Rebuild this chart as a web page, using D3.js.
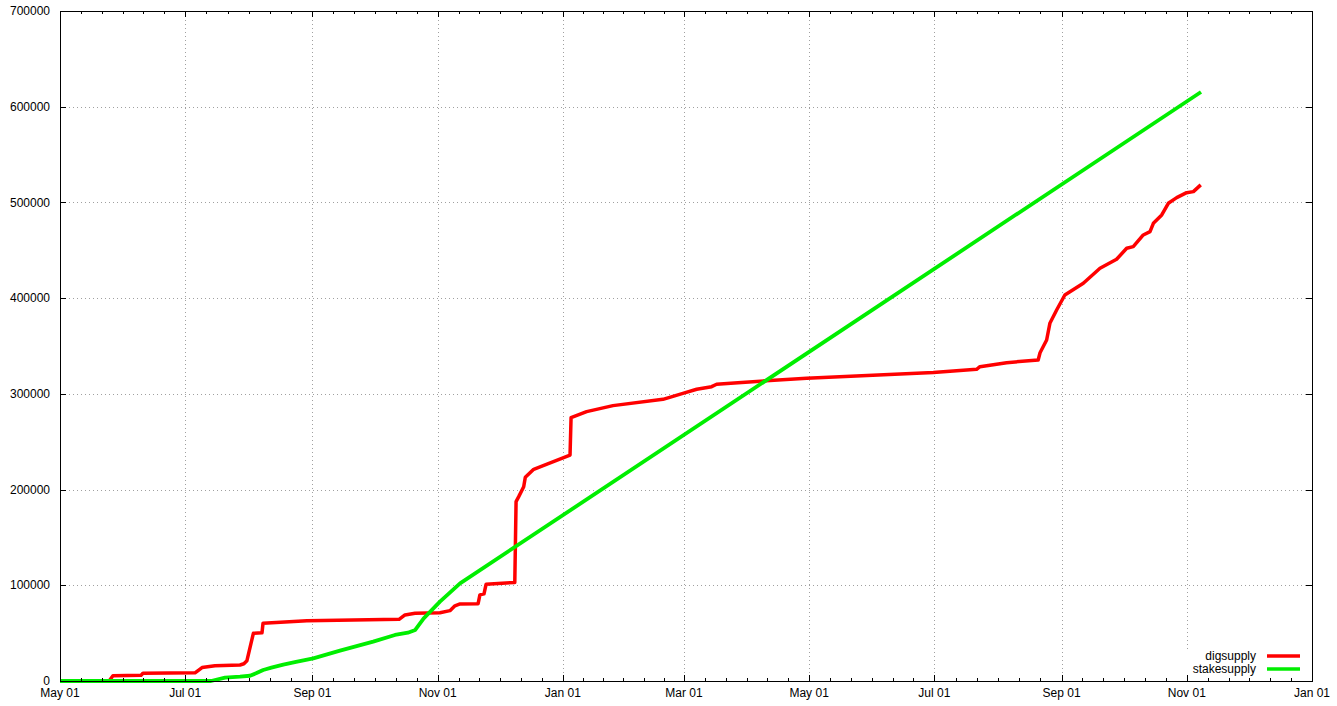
<!DOCTYPE html>
<html>
<head>
<meta charset="utf-8">
<script src="https://cdn.jsdelivr.net/npm/d3@7/dist/d3.min.js"></script>
<style>
  html, body { margin: 0; padding: 0; background: #fff; }
  svg { display: block; }
  text { font-family: "Liberation Sans", Arial, sans-serif; font-size: 12px; fill: #000; }
</style>
</head>
<body>
<svg id="chart" width="1337" height="706"></svg>
<script>
// ---- data ----
const digDates = ["2014-05-01 00","2014-05-24 22","2014-05-26 19","2014-06-09 12","2014-06-10 10","2014-07-05 19","2014-07-09 05","2014-07-15 12","2014-07-27 17","2014-07-29 14","2014-07-31 02","2014-08-03 05","2014-08-07 10","2014-08-07 22","2014-08-29 07","2014-10-13 05","2014-10-16 02","2014-10-21 00","2014-11-02 03","2014-11-07 00","2014-11-09 10","2014-11-11 22","2014-11-20 17","2014-11-21 14","2014-11-23 14","2014-11-24 14","2014-12-08 14","2014-12-09 05","2014-12-10 12","2014-12-12 22","2014-12-13 17","2014-12-17 19","2014-12-24 07","2015-01-04 12","2015-01-05 00","2015-01-12 14","2015-01-25 10","2015-02-18 19","2015-02-28 12","2015-03-07 05","2015-03-14 12","2015-03-16 22","2015-03-27 07","2015-04-29 19","2015-06-30 12","2015-07-21 14","2015-07-23 05","2015-08-05 05","2015-08-20 14","2015-08-21 12","2015-08-24 17","2015-08-26 07","2015-08-29 14","2015-09-02 14","2015-09-11 14","2015-09-19 17","2015-09-27 19","2015-10-02 17","2015-10-05 22","2015-10-10 19","2015-10-14 02","2015-10-15 17","2015-10-19 19","2015-10-23 00","2015-10-27 02","2015-10-31 22","2015-11-04 05","2015-11-07 19"];
const digValues = [0,0,5500,6000,8000,8500,14000,16000,16700,18000,21200,49800,50300,60300,63000,64400,69000,70700,71400,73500,78500,80500,80800,90000,91000,101000,103000,187400,192600,203000,212800,221200,226500,236100,275100,281400,287700,294300,300500,304800,307500,310000,311700,316300,322200,325700,328400,332600,335400,343000,356300,373700,387600,403300,415500,431200,440600,452100,453800,466000,469500,478200,486900,499100,505000,510200,511300,518300];

const stakeDates = ["2014-05-01 00","2014-07-13 14","2014-07-20 10","2014-07-27 17","2014-08-01 14","2014-08-04 12","2014-08-08 00","2014-08-12 00","2014-08-17 19","2014-08-24 00","2014-09-01 10","2014-09-14 10","2014-09-30 14","2014-10-11 05","2014-10-17 12","2014-10-21 02","2014-10-25 05","2014-11-02 03","2014-11-11 22","2015-11-07 22"];
const stakeValues = [0,0,3500,4500,5500,8000,11500,14000,17200,20000,23700,31700,41100,48100,50500,53300,65500,82900,102000,615400];

const seriesNames = ["digsupply","stakesupply"];
const seriesColors = ["#ff0000","#00ee00"];

const yTickValues = [0,100000,200000,300000,400000,500000,600000,700000];
const xTickDates = ["2014-05-01 00","2014-07-01 00","2014-09-01 00","2014-11-01 00","2015-01-01 00","2015-03-01 00","2015-05-01 00","2015-07-01 00","2015-09-01 00","2015-11-01 00","2016-01-01 00"];

// ---- layout ----
const svg = d3.select("#chart");
const L = 60, R = 1312, T = 11, B = 681;
const parse = d3.timeParse("%Y-%m-%d %H");
const fmt = d3.timeFormat("%b %d");

const x = d3.scaleTime().domain([parse(xTickDates[0]), parse(xTickDates[xTickDates.length - 1])]).range([L, R]);
const y = d3.scaleLinear().domain([0, 700000]).range([B, T]);

const xt = xTickDates.map(parse);

// grid
const grid = svg.append("g").attr("stroke", "#a0a0a0").attr("stroke-width", 1).attr("stroke-dasharray", "1,3");
xt.forEach(d => {
  const px = Math.round(x(d)) + 0.5;
  if (px > L + 1 && px < R - 1)
    grid.append("line").attr("x1", px).attr("x2", px).attr("y1", T + 5).attr("y2", B - 5);
  else if (px <= L + 1)
    grid.append("line").attr("x1", px).attr("x2", px).attr("y1", T + 2).attr("y2", B - 5);
});
yTickValues.forEach(v => {
  const py = Math.round(y(v)) + 0.5;
  if (py > T + 1 && py < B - 1)
    grid.append("line").attr("x1", L + 5).attr("x2", R - 6).attr("y1", py).attr("y2", py);
});

// legend background (clears grid)
svg.append("rect").attr("x", 1180).attr("y", 649).attr("width", 126).attr("height", 27).attr("fill", "#fff");

// lines
const line = d3.line().x(d => x(d[0])).y(d => y(d[1]));
const digData = digDates.map((d, i) => [parse(d), digValues[i]]);
const stakeData = stakeDates.map((d, i) => [parse(d), stakeValues[i]]);

svg.append("path").datum(digData).attr("d", line)
  .attr("fill", "none").attr("stroke", seriesColors[0]).attr("stroke-width", 3.5).attr("stroke-linejoin", "round");
svg.append("path").datum(stakeData).attr("d", line)
  .attr("fill", "none").attr("stroke", seriesColors[1]).attr("stroke-width", 3.8).attr("stroke-linejoin", "round");

// frame
svg.append("rect").attr("x", L + 0.5).attr("y", T + 0.5).attr("width", R - L).attr("height", B - T)
  .attr("fill", "none").attr("stroke", "#000").attr("stroke-width", 1);

// ticks
const ticks = svg.append("g").attr("stroke", "#000").attr("stroke-width", 1);
for (let i = 0; i < xt.length; i++) {
  const px = Math.round(x(xt[i])) + 0.5;
  ticks.append("line").attr("x1", px).attr("x2", px).attr("y1", B).attr("y2", B - 6);
  ticks.append("line").attr("x1", px).attr("x2", px).attr("y1", T).attr("y2", T + 6);
  if (i < xt.length - 1) {
    const a = x(xt[i]), b = x(xt[i + 1]);
    for (let k = 1; k < 6; k++) {
      const mx = Math.round(a + (b - a) * k / 6) + 0.5;
      ticks.append("line").attr("x1", mx).attr("x2", mx).attr("y1", B).attr("y2", B - 3);
      ticks.append("line").attr("x1", mx).attr("x2", mx).attr("y1", T).attr("y2", T + 3);
    }
  }
}
yTickValues.forEach(v => {
  const py = Math.round(y(v)) + 0.5;
  ticks.append("line").attr("x1", L).attr("x2", L + 6).attr("y1", py).attr("y2", py);
  ticks.append("line").attr("x1", R).attr("x2", R - 6).attr("y1", py).attr("y2", py);
});

// labels
yTickValues.forEach(v => {
  svg.append("text").attr("x", 50).attr("y", y(v)).attr("dy", "0.35em").attr("text-anchor", "end").text(v);
});
xt.forEach(d => {
  svg.append("text").attr("x", x(d)).attr("y", 697).attr("text-anchor", "middle").text(fmt(d));
});

// legend
const legY = [656, 669];
seriesNames.forEach((n, i) => {
  svg.append("text").attr("x", 1256).attr("y", legY[i]).attr("dy", "0.35em").attr("text-anchor", "end").text(n);
  svg.append("line").attr("x1", 1267).attr("x2", 1300).attr("y1", legY[i]).attr("y2", legY[i])
    .attr("stroke", seriesColors[i]).attr("stroke-width", 3.5);
});
</script>
</body>
</html>
